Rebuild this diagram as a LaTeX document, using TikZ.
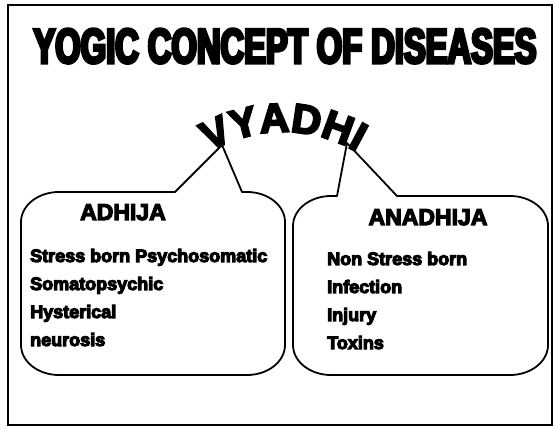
\documentclass[tikz,border=0pt]{standalone}
\usepackage{fontspec}
\setmainfont{Liberation Sans}
\newfontfamily\titlefont{Liberation Sans Bold}[FakeStretch=0.667]
\newfontfamily\bodyfont{Liberation Sans Bold}
\newfontfamily\vyfont{Liberation Sans Bold}
\usetikzlibrary{decorations.text}
\newcommand\hv[2]{\special{pdf:literal direct #1 w 2 Tr}#2\special{pdf:literal direct 0 Tr}}
\newcommand\hvon[1]{\special{pdf:literal direct #1 w 2 Tr}}
\tikzset{
  item/.style={anchor=base west,inner sep=0pt,font=\bodyfont\fontsize{18}{20}\selectfont},
  head/.style={anchor=base,inner sep=0pt,font=\bodyfont\fontsize{23}{25}\selectfont},
  callout/.style={line width=1.8pt,line join=round},
  arctext/.style={decorate,decoration={text along path,text align=center,text={|\vyfont\fontsize{41}{44}\selectfont\hvon{2}|VYADHI}}},
}
\begin{document}
\begin{tikzpicture}[x=1pt,y=1pt]
\useasboundingbox (0,0) rectangle (553,428);
% frame
\draw[line width=1.1pt] (8,423) rectangle (552,3);
% title
\node[anchor=base,inner sep=0pt,font=\titlefont\fontsize{49}{52}\selectfont] (title) at (285,365) {\hv{3}{YOGIC CONCEPT OF DISEASES}};
% arc text
\path[arctext] (283,150) ++(127:146) arc (127:53:146);
% left callout
\draw[callout] (175,236) -- (222,283) -- (242,236) -- (247,236)
  arc (90:0:38 and 30) -- (285,83) arc (0:-90:38 and 30) -- (59,53)
  arc (270:180:38 and 30) -- (21,206) arc (180:90:38 and 30) -- cycle;
% right callout
\draw[callout] (337,232) -- (347,285) -- (397,232) -- (510,232)
  arc (90:0:38 and 30) -- (548,83) arc (0:-90:38 and 30) -- (331,53)
  arc (270:180:38 and 30) -- (293,202) arc (180:90:38 and 30) -- cycle;
% headings
\node[head] (adhija) at (123,208) {\hv{1.2}{ADHIJA}};
\node[head] (anadhija) at (428,203) {\hv{1.2}{ANADHIJA}};
% left items
\node[item] (l1) at (30,166) {\hv{1.1}{Stress born Psychosomatic}};
\node[item] (l2) at (30,138) {\hv{1.1}{Somatopsychic}};
\node[item] (l3) at (30,110) {\hv{1.1}{Hysterical}};
\node[item] (l4) at (30,82) {\hv{1.1}{neurosis}};
% right items
\node[item] (r1) at (327,163) {\hv{1.1}{Non Stress born}};
\node[item] (r2) at (327,135) {\hv{1.1}{Infection}};
\node[item] (r3) at (327,107) {\hv{1.1}{Injury}};
\node[item] (r4) at (327,79) {\hv{1.1}{Toxins}};
\end{tikzpicture}
\end{document}
